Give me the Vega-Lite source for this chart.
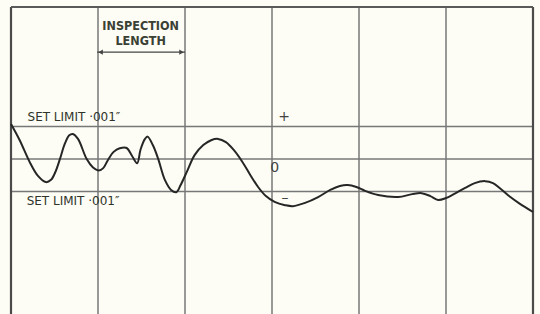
{
  "$schema": "https://vega.github.io/schema/vega-lite/v6.json",
  "width": 522,
  "height": 307,
  "autosize": {"type": "none"},
  "padding": {"left": 11, "top": 7, "right": 7, "bottom": 0},
  "background": "#fdfdf5",
  "config": {"view": {"stroke": null}},
  "datasets": {
    "verticals": [{"pos": 1}, {"pos": 2}, {"pos": 3}, {"pos": 4}, {"pos": 5}],
    "borders": [{"pos": 0}, {"pos": 6}],
    "levels": [{"dev": 1}, {"dev": 0}, {"dev": -1}],
    "trace": [
      {"pos": 0.00, "dev": 1.08}, {"pos": 0.10, "dev": 0.58}, {"pos": 0.22, "dev": -0.12},
      {"pos": 0.31, "dev": -0.52}, {"pos": 0.40, "dev": -0.71}, {"pos": 0.46, "dev": -0.64},
      {"pos": 0.51, "dev": -0.40}, {"pos": 0.56, "dev": -0.02}, {"pos": 0.62, "dev": 0.48},
      {"pos": 0.67, "dev": 0.73}, {"pos": 0.71, "dev": 0.77}, {"pos": 0.77, "dev": 0.62},
      {"pos": 0.87, "dev": 0.0}, {"pos": 0.94, "dev": -0.25}, {"pos": 1.01, "dev": -0.35},
      {"pos": 1.06, "dev": -0.28}, {"pos": 1.11, "dev": -0.05}, {"pos": 1.18, "dev": 0.22},
      {"pos": 1.25, "dev": 0.33}, {"pos": 1.33, "dev": 0.34},
      {"pos": 1.39, "dev": 0.10}, {"pos": 1.45, "dev": -0.13}, {"pos": 1.49, "dev": 0.30},
      {"pos": 1.54, "dev": 0.62}, {"pos": 1.57, "dev": 0.69}, {"pos": 1.63, "dev": 0.43},
      {"pos": 1.69, "dev": 0.02},
      {"pos": 1.77, "dev": -0.65}, {"pos": 1.84, "dev": -0.95}, {"pos": 1.90, "dev": -1.02},
      {"pos": 1.95, "dev": -0.80}, {"pos": 2.03, "dev": -0.34}, {"pos": 2.11, "dev": 0.12},
      {"pos": 2.21, "dev": 0.43}, {"pos": 2.30, "dev": 0.58}, {"pos": 2.38, "dev": 0.62},
      {"pos": 2.47, "dev": 0.52}, {"pos": 2.56, "dev": 0.28}, {"pos": 2.66, "dev": -0.09},
      {"pos": 2.75, "dev": -0.49}, {"pos": 2.84, "dev": -0.86}, {"pos": 2.93, "dev": -1.14},
      {"pos": 3.03, "dev": -1.32}, {"pos": 3.15, "dev": -1.42}, {"pos": 3.24, "dev": -1.45},
      {"pos": 3.38, "dev": -1.35}, {"pos": 3.53, "dev": -1.17}, {"pos": 3.67, "dev": -0.95},
      {"pos": 3.78, "dev": -0.83}, {"pos": 3.87, "dev": -0.80}, {"pos": 3.97, "dev": -0.86},
      {"pos": 4.07, "dev": -0.98}, {"pos": 4.22, "dev": -1.11}, {"pos": 4.45, "dev": -1.17},
      {"pos": 4.61, "dev": -1.08}, {"pos": 4.72, "dev": -1.05}, {"pos": 4.82, "dev": -1.14},
      {"pos": 4.91, "dev": -1.26}, {"pos": 5.00, "dev": -1.20}, {"pos": 5.09, "dev": -1.08},
      {"pos": 5.22, "dev": -0.89}, {"pos": 5.33, "dev": -0.74}, {"pos": 5.45, "dev": -0.68},
      {"pos": 5.54, "dev": -0.74}, {"pos": 5.63, "dev": -0.92}, {"pos": 5.74, "dev": -1.17},
      {"pos": 5.85, "dev": -1.38}, {"pos": 6.00, "dev": -1.63}
    ],
    "labels": [
      {"pos": 1.49, "dev": 4.09, "label": "INSPECTION"},
      {"pos": 1.49, "dev": 3.62, "label": "LENGTH"}
    ],
    "limits": [
      {"pos": 0.19, "dev": 1.29, "label": "SET LIMIT ·001″"},
      {"pos": 0.18, "dev": -1.28, "label": "SET LIMIT ·001″"}
    ],
    "signs": [
      {"pos": 3.14, "dev": 1.29, "label": "+"},
      {"pos": 3.03, "dev": -0.28, "label": "0"},
      {"pos": 3.15, "dev": -1.2, "label": "–"}
    ],
    "arrow": [{"pos": 0.99, "pos2": 2.0, "dev": 3.29}],
    "heads": [{"pos": 1.03, "dev": 3.29, "dir": "left"}, {"pos": 1.96, "dev": 3.29, "dir": "right"}]
  },
  "encoding": {
    "x": {"type": "quantitative", "scale": {"domain": [0, 6], "nice": false, "zero": false}, "axis": null},
    "y": {"type": "quantitative", "scale": {"domain": [-4.77, 4.68], "nice": false, "zero": false}, "axis": null}
  },
  "layer": [
    {
      "data": {"name": "verticals"},
      "mark": {"type": "rule", "color": "#777777", "strokeWidth": 1.5},
      "encoding": {"x": {"field": "pos", "type": "quantitative"}, "y": {"datum": -4.77}, "y2": {"datum": 4.68}}
    },
    {
      "data": {"name": "levels"},
      "mark": {"type": "rule", "color": "#777777", "strokeWidth": 1.5},
      "encoding": {"y": {"field": "dev", "type": "quantitative"}, "x": {"datum": 0}, "x2": {"datum": 6}}
    },
    {
      "data": {"name": "borders"},
      "mark": {"type": "rule", "color": "#4a4a4a", "strokeWidth": 2.2},
      "encoding": {"x": {"field": "pos", "type": "quantitative"}, "y": {"datum": -4.77}, "y2": {"datum": 4.68}}
    },
    {
      "data": {"values": [{"dev": 4.68}]},
      "mark": {"type": "rule", "color": "#5a5a5a", "strokeWidth": 2},
      "encoding": {"y": {"field": "dev", "type": "quantitative"}, "x": {"datum": 0}, "x2": {"datum": 6}}
    },
    {
      "data": {"name": "trace"},
      "mark": {"type": "line", "color": "#262626", "strokeWidth": 2, "interpolate": "catmull-rom"},
      "encoding": {"x": {"field": "pos", "type": "quantitative"}, "y": {"field": "dev", "type": "quantitative"}}
    },
    {
      "data": {"name": "arrow"},
      "mark": {"type": "rule", "color": "#444444", "strokeWidth": 1.2},
      "encoding": {"x": {"field": "pos", "type": "quantitative"}, "x2": {"field": "pos2"}, "y": {"field": "dev", "type": "quantitative"}}
    },
    {
      "data": {"name": "heads"},
      "mark": {"type": "point", "filled": true, "color": "#444444", "size": 28, "opacity": 1},
      "encoding": {
        "x": {"field": "pos", "type": "quantitative"},
        "y": {"field": "dev", "type": "quantitative"},
        "shape": {"field": "dir", "type": "nominal", "scale": {"domain": ["left", "right"], "range": ["triangle-left", "triangle-right"]}, "legend": null}
      }
    },
    {
      "data": {"name": "labels"},
      "mark": {"type": "text", "font": "DejaVu Sans Condensed", "fontSize": 12.5, "fontWeight": "bold", "color": "#3a4034", "align": "center", "baseline": "middle"},
      "encoding": {"x": {"field": "pos", "type": "quantitative"}, "y": {"field": "dev", "type": "quantitative"}, "text": {"field": "label"}}
    },
    {
      "data": {"name": "limits"},
      "mark": {"type": "text", "font": "DejaVu Sans", "fontSize": 12, "fontWeight": "normal", "color": "#2f342b", "align": "left", "baseline": "middle"},
      "encoding": {"x": {"field": "pos", "type": "quantitative"}, "y": {"field": "dev", "type": "quantitative"}, "text": {"field": "label"}}
    },
    {
      "data": {"name": "signs"},
      "mark": {"type": "text", "font": "DejaVu Sans", "fontSize": 14, "fontWeight": "normal", "color": "#444444", "align": "center", "baseline": "middle"},
      "encoding": {"x": {"field": "pos", "type": "quantitative"}, "y": {"field": "dev", "type": "quantitative"}, "text": {"field": "label"}}
    }
  ]
}
